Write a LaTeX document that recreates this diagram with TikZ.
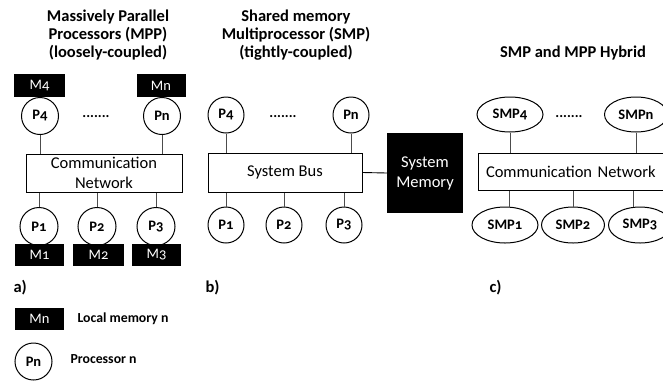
\documentclass[tikz,border=0pt]{standalone}
\usepackage{fontspec}
\setmainfont{Carlito}[Numbers=OldStyle]
\usetikzlibrary{shapes.geometric}
\newcommand\mylab{\fontsize{14.5}{16}\selectfont\bfseries}
\newcommand\mymem{\fontsize{14.5}{16}\selectfont}
\newcommand\myleg{\fontsize{13.8}{15}\selectfont\bfseries}
\newcommand\mybig{\fontsize{16.5}{20}\selectfont}
\newcommand\myttl{\fontsize{16.5}{18}\selectfont\bfseries}
\tikzset{
  proc/.style={circle, draw, line width=1pt, fill=white, minimum size=37pt, inner sep=0pt, font=\mylab},
  memb/.style={rectangle, fill=black, text=white, minimum width=51pt, minimum height=23pt, inner sep=0pt, font=\mymem},
  netbox/.style={rectangle, draw, line width=1pt, inner sep=0pt, font=\mybig, align=center},
  smp/.style={ellipse, draw, line width=1pt, minimum width=66pt, minimum height=35pt, inner sep=0pt, font=\mylab},
  link/.style={draw=black!70, line width=0.9pt},
  ttl/.style={font=\myttl, align=center},
  dotsl/.style={font=\mylab},
  sublab/.style={font=\myttl, anchor=west},
  legtext/.style={font=\myleg, anchor=west}
}
\begin{document}
\begin{tikzpicture}[x=1pt,y=-1pt]
\useasboundingbox (0,0) rectangle (663,381);
\clip (0,0) rectangle (663,381);
\fill[white] (0,0) rectangle (663,381);

% ---------- titles ----------
\node[ttl] (ta) at (108,35) {Massively Parallel\\Processors (MPP)\\(loosely-coupled)};
\node[ttl] (tb) at (296,35) {Shared memory\\Multiprocessor (SMP)\\(tightly-coupled)};
\node[ttl] (tc) at (573,53) {SMP and MPP Hybrid};

% ---------- panel a ----------
\node[netbox, minimum width=156pt, minimum height=38pt] (neta) at (104,173) {Communication\\Network};
\node[proc] (p4a) at (40,116) {P4};
\node[proc] (pna) at (162,116) {Pn};
\node[memb] (m4a) at (39.5,85.5) {M4};
\node[memb, minimum width=49pt] (mna) at (161,85.5) {Mn};
\node[dotsl] (da) at (96,117) {.......};
\node[proc, minimum size=38pt] (p1a) at (39,226.5) {P1};
\node[proc, minimum size=38pt] (p2a) at (97,226.5) {P2};
\node[proc, minimum size=38pt] (p3a) at (156,226.5) {P3};
\node[memb, minimum width=49pt, minimum height=22pt] (m1a) at (39.5,255) {M1};
\node[memb, minimum height=22pt] (m2a) at (98.5,255) {M2};
\node[memb, minimum width=49pt, minimum height=22pt] (m3a) at (156.5,255) {M3};
\draw[link] (p4a.south) -- (p4a.south |- neta.north);
\draw[link] (pna.south) -- (pna.south |- neta.north);
\draw[link] (p1a.north) -- (p1a.north |- neta.south);
\draw[link] (p2a.north) -- (p2a.north |- neta.south);
\draw[link] (p3a.north) -- (p3a.north |- neta.south);
\node[sublab] (la) at (10,288) {a)};

% ---------- panel b ----------
\node[netbox, minimum width=154pt, minimum height=39pt] (bus) at (285,172.5) {System Bus};
\node[rectangle, fill=black, text=white, minimum width=76pt, minimum height=80pt, inner sep=0pt, font=\mybig, align=center] (smem) at (425,173) {System\\Memory};
\node[proc, minimum size=36pt] (p4b) at (226,115) {P4};
\node[proc, minimum size=36pt] (pnb) at (351,115) {Pn};
\node[dotsl] (db) at (283,117) {.......};
\node[proc, minimum size=36pt] (p1b) at (226,225) {P1};
\node[proc, minimum size=36pt] (p2b) at (284,225) {P2};
\node[proc, minimum size=36pt] (p3b) at (344,225) {P3};
\draw[link] (p4b.south) -- (p4b.south |- bus.north);
\draw[link] (pnb.south) -- (pnb.south |- bus.north);
\draw[link] (p1b.north) -- (p1b.north |- bus.south);
\draw[link] (p2b.north) -- (p2b.north |- bus.south);
\draw[link] (p3b.north) -- (p3b.north |- bus.south);
\draw[link, draw=black] (bus.east) -- (smem.west);
\node[sublab] (lb) at (202,288) {b)};

% ---------- panel c ----------
\node[netbox, minimum height=37pt, text width=186pt, inner xsep=8pt, align=left] (netc) at (579,171.5) {Communication Network};
\node[smp] (s4) at (510,114.5) {SMP4};
\node[smp, minimum width=63pt] (sn) at (636,114.5) {SMPn};
\node[dotsl] (dc) at (569,117) {.......};
\node[smp, minimum height=36pt] (s1) at (505,225) {SMP1};
\node[smp, minimum width=63pt, minimum height=36pt] (s2) at (573,225) {SMP2};
\node[smp, minimum width=63pt, minimum height=36pt] (s3) at (640,225) {SMP3};
\draw[link] (s4.south) -- (s4.south |- netc.north);
\draw[link] (sn.south) -- (sn.south |- netc.north);
\draw[link] ([xshift=4pt]s1.north) -- ([xshift=4pt]s1.north |- netc.south);
\draw[link] (s2.north) -- (s2.north |- netc.south);
\draw[link] ([xshift=-7pt]s3.north) -- ([xshift=-7pt]s3.north |- netc.south);
\node[sublab] (lc) at (486,288) {c)};

% ---------- legend ----------
\node[memb, minimum width=49pt, minimum height=22pt] (lm) at (39.5,319) {Mn};
\node[legtext] (lmt) at (74,319) {Local memory n};
\node[proc] (lp) at (33.5,361.5) {Pn};
\node[legtext] (lpt) at (67,359) {Processor n};
\end{tikzpicture}
\end{document}
